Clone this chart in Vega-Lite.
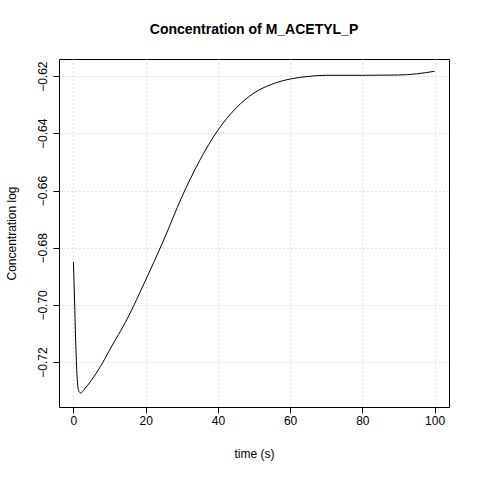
{
  "$schema": "https://vega.github.io/schema/vega-lite/v6.json",
  "width": 390,
  "height": 348,
  "autosize": {"type": "none"},
  "padding": {"left": 59, "top": 59, "right": 31, "bottom": 73},
  "background": "white",
  "config": {
    "view": {"stroke": "black", "strokeWidth": 1},
    "font": "Liberation Sans",
    "axis": {"grid": true, "gridColor": "#c8c8c8", "gridDash": [1, 3], "domain": false, "tickColor": "black", "labelColor": "black", "labelFontSize": 12, "titleFontSize": 12, "titleFontWeight": "normal", "tickSize": 6}
  },
  "title": {"text": "Concentration of M_ACETYL_P", "fontSize": 14, "fontWeight": "bold", "offset": 22},
  "data": {"values": [
    {"t": 0, "c": -0.685}, {"t": 0.3, "c": -0.698}, {"t": 0.6, "c": -0.712}, {"t": 1, "c": -0.725},
    {"t": 1.5, "c": -0.7302}, {"t": 2, "c": -0.7308}, {"t": 3, "c": -0.7295}, {"t": 5, "c": -0.7263},
    {"t": 7.5, "c": -0.7215}, {"t": 10, "c": -0.7158}, {"t": 15, "c": -0.7046}, {"t": 20, "c": -0.6913},
    {"t": 25, "c": -0.6773}, {"t": 30, "c": -0.6623}, {"t": 35, "c": -0.6494}, {"t": 40, "c": -0.6389},
    {"t": 45, "c": -0.6312}, {"t": 50, "c": -0.6259}, {"t": 55, "c": -0.6228}, {"t": 60, "c": -0.621},
    {"t": 65, "c": -0.6201}, {"t": 70, "c": -0.6197}, {"t": 80, "c": -0.6197}, {"t": 90, "c": -0.6196},
    {"t": 95, "c": -0.6192}, {"t": 100, "c": -0.6183}
  ]},
  "mark": {"type": "line", "color": "black", "strokeWidth": 1, "interpolate": "monotone"},
  "encoding": {
    "x": {"field": "t", "type": "quantitative", "scale": {"domain": [-4, 104], "nice": false, "zero": false},
      "axis": {"values": [0, 20, 40, 60, 80, 100], "title": "time (s)", "titlePadding": 22}},
    "y": {"field": "c", "type": "quantitative", "scale": {"domain": [-0.7357, -0.614], "nice": false, "zero": false},
      "axis": {"values": [-0.72, -0.7, -0.68, -0.66, -0.64, -0.62], "format": ".2f", "title": "Concentration log", "labelAngle": -90, "labelAlign": "center", "labelBaseline": "bottom", "labelPadding": 4, "titlePadding": 18}}
  }
}
